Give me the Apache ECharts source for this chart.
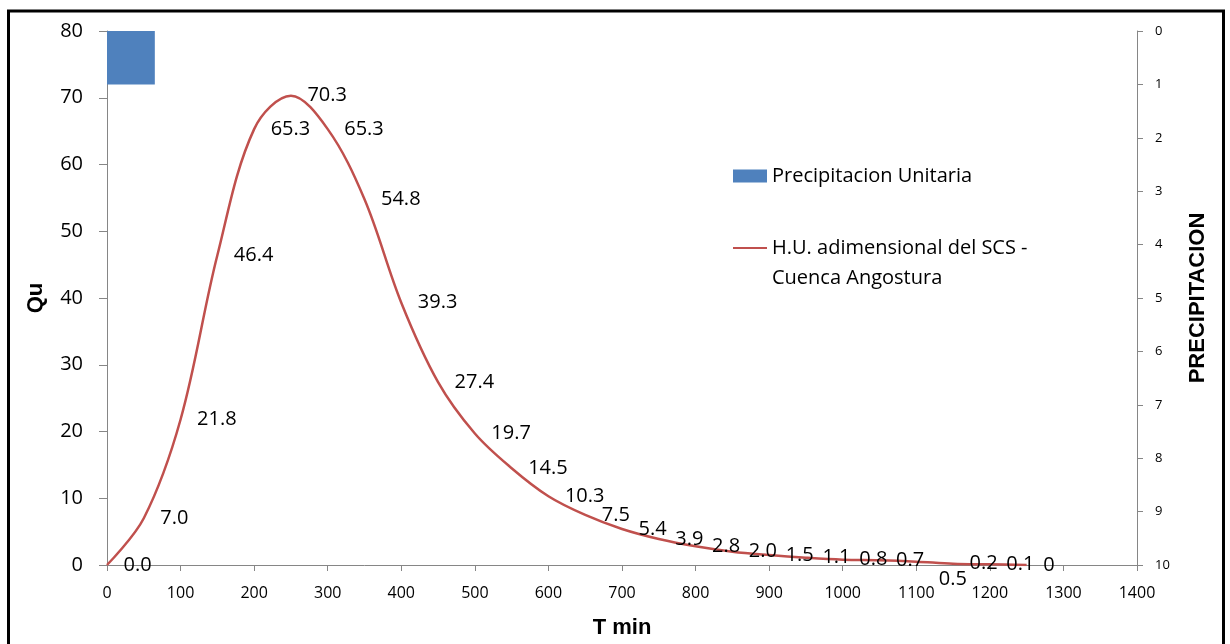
<!DOCTYPE html>
<html>
<head>
<meta charset="utf-8">
<script src="https://cdn.jsdelivr.net/npm/echarts@6/dist/echarts.min.js"></script>
<style>
  html, body { margin: 0; padding: 0; background: #fff; }
  #chart { width: 1230px; height: 644px; }
</style>
</head>
<body>
<div id="chart"></div>
<script>
// Time (min) of each ordinate of the dimensionless SCS unit hydrograph
const timeMin = [0, 50, 100, 150, 200, 250, 300, 350, 400, 450, 500, 550, 600,
  650, 700, 750, 800, 850, 900, 950, 1000, 1050, 1100, 1150, 1200, 1250];
// Discharge ordinates Qu
const qu = [0.0, 7.0, 21.8, 46.4, 65.3, 70.3, 65.3, 54.8, 39.3, 27.4, 19.7, 14.5, 10.3,
  7.5, 5.4, 3.9, 2.8, 2.0, 1.5, 1.1, 0.8, 0.7, 0.5, 0.2, 0.1, 0];
// Unit precipitation block: start time, end time, depth
const precipStart = [0];
const precipEnd = [65];
const precipDepth = [1];

const seriesBarName = 'Precipitacion Unitaria';
const seriesLineName = 'H.U. adimensional del SCS - Cuenca Angostura';

const tickFont = '"Open Sans", "Noto Sans", sans-serif';
const titleFont = '"Liberation Sans", Arial, sans-serif';
const axisGray = '#868686';

const lineData = timeMin.map((t, i) => {
  const item = { value: [t, qu[i]] };
  // this label sits below the curve to stay clear of its neighbours
  if (qu[i] === 0.5) item.label = { offset: [6, 18] };
  return item;
});
const lastIdx = qu.length - 1;

const chart = echarts.init(document.getElementById('chart'), null, { renderer: 'canvas' });

chart.setOption({
  animation: false,
  backgroundColor: '#fff',
  graphic: [{
    type: 'rect',
    shape: { x: 8.5, y: 11, width: 1215, height: 660 },
    style: { fill: 'none', stroke: '#000', lineWidth: 3 },
    silent: true
  }],
  grid: { left: 107, right: 93, top: 31, bottom: 76, containLabel: false },
  legend: {
    orient: 'vertical',
    left: 732,
    top: 161,
    padding: 0,
    itemGap: 12,
    itemWidth: 34,
    itemHeight: 13,
    textStyle: { fontFamily: tickFont, fontSize: 20, color: '#000', lineHeight: 30 },
    data: [
      { name: seriesBarName, icon: 'rect' },
      { name: seriesLineName }
    ],
    formatter: name => name === seriesLineName
      ? '\nH.U. adimensional del SCS -\nCuenca Angostura' : name
  },
  xAxis: {
    type: 'value',
    min: 0, max: 1400, interval: 100,
    name: 'T min',
    nameLocation: 'middle',
    nameGap: 52,
    nameTextStyle: { fontFamily: titleFont, fontWeight: 'bold', fontSize: 22, color: '#000' },
    axisLine: { show: true, lineStyle: { color: axisGray, width: 1 } },
    axisTick: { show: true, length: 6, lineStyle: { color: axisGray } },
    axisLabel: {
      fontFamily: tickFont, fontSize: 16, color: '#000', margin: 20,
      formatter: v => String(v)
    },
    splitLine: { show: false }
  },
  yAxis: [{
    type: 'value',
    min: 0, max: 80, interval: 10,
    name: 'Qu',
    nameLocation: 'middle',
    nameRotate: 90,
    nameGap: 60,
    nameTextStyle: { fontFamily: titleFont, fontWeight: 'bold', fontSize: 22, color: '#000' },
    axisLine: { show: true, lineStyle: { color: axisGray, width: 1 } },
    axisTick: { show: true, length: 8, lineStyle: { color: axisGray } },
    axisLabel: { fontFamily: tickFont, fontSize: 20, color: '#000', margin: 24 },
    splitLine: { show: false }
  }, {
    type: 'value',
    position: 'right',
    inverse: true,
    min: 0, max: 10, interval: 1,
    name: 'PRECIPITACION',
    nameLocation: 'middle',
    nameRotate: 90,
    nameGap: 50,
    nameTextStyle: { fontFamily: titleFont, fontWeight: 'bold', fontSize: 22, color: '#000' },
    axisLine: { show: true, lineStyle: { color: axisGray, width: 1 } },
    axisTick: { show: true, length: 6, lineStyle: { color: axisGray } },
    axisLabel: { fontFamily: tickFont, fontSize: 13, color: '#000', margin: 18 },
    splitLine: { show: false }
  }],
  series: [{
    name: seriesBarName,
    type: 'custom',
    xAxisIndex: 0,
    yAxisIndex: 1,
    itemStyle: { color: '#4F81BD' },
    encode: { x: [0, 1], y: 2 },
    data: precipStart.map((s, i) => [s, precipEnd[i], precipDepth[i]]),
    renderItem: (params, api) => {
      const p0 = api.coord([api.value(0), 0]);
      const p1 = api.coord([api.value(1), api.value(2)]);
      return {
        type: 'rect',
        shape: { x: p0[0], y: p0[1], width: p1[0] - p0[0], height: p1[1] - p0[1] },
        style: { fill: '#4F81BD' }
      };
    }
  }, {
    name: seriesLineName,
    type: 'line',
    xAxisIndex: 0,
    yAxisIndex: 0,
    smooth: 0.35,
    symbol: 'circle',
    symbolSize: 1,
    showSymbol: true,
    itemStyle: { color: 'rgba(0,0,0,0)' },
    lineStyle: { color: '#C0504D', width: 2.5 },
    label: {
      show: true,
      position: 'right',
      distance: 16,
      fontFamily: tickFont,
      fontSize: 20,
      color: '#000',
      formatter: p => p.dataIndex === lastIdx ? String(p.value[1]) : p.value[1].toFixed(1)
    },
    data: lineData,
    z: 3
  }]
});
</script>
</body>
</html>
